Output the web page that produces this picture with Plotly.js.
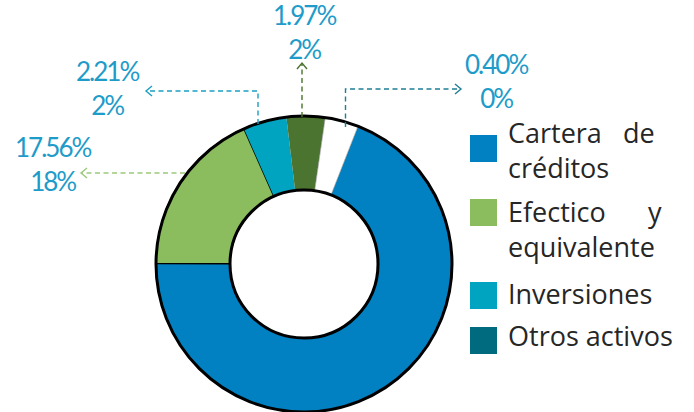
<!DOCTYPE html>
<html>
<head>
<meta charset="utf-8">
<script src="https://cdn.plot.ly/plotly-3.0.1.min.js"></script>
<style>
html,body{margin:0;padding:0;background:#fff;}
#chart{width:694px;height:412px;}
</style>
</head>
<body>
<div id="chart"></div>
<script>
// ---- data ----
const sliceNames  = ['Cartera de créditos', 'Efectico y equivalente', 'Inversiones', 'Otros activos', 'Otros'];
const sliceValues = [69.1, 18.3, 4.75, 4.2, 3.65];
const sliceColors = ['#0181C1', '#8BBD5E', '#00A3C0', '#4A7430', '#FFFFFF'];

const labelPct     = ['17.56%', '2.21%', '1.97%', '0.40%'];
const labelRounded = ['18%', '2%', '2%', '0%'];
const labelColor   = '#1E9BC9';

const legendLabels = ['Cartera de créditos', 'Efectico y equivalente', 'Inversiones', 'Otros activos'];
const legendColors = ['#0181C1', '#8BBD5E', '#00A3C0', '#006A7E'];

// ---- helpers (pixel -> paper) ----
const W = 694, H = 412;
const px = x => x / W;
const py = y => 1 - y / H;
const pathPx = pts => pts.map((p, i) => (i ? 'L' : 'M') + px(p[0]) + ',' + py(p[1])).join(' ');

const LABEL_FONT = 'Lato, "Open Sans", sans-serif';
const LEGEND_FONT = '"Open Sans", Lato, sans-serif';

const traces = [
  {
    type: 'pie',
    labels: sliceNames,
    values: sliceValues,
    sort: false,
    direction: 'clockwise',
    rotation: 21.4,
    hole: 0.5,
    textinfo: 'none',
    hoverinfo: 'label+value',
    marker: { colors: sliceColors, line: { color: ['#000', '#000', '#000', '#000', '#888'], width: [0, 1.5, 0, 0, 0.6] } },
    domain: { x: [px(156), px(452)], y: [0, 296 / H] },
    showlegend: false
  },
  {
    type: 'pie',
    labels: ['ring'],
    values: [1],
    hole: 0.5,
    textinfo: 'none',
    hoverinfo: 'skip',
    marker: { colors: ['rgba(0,0,0,0)'], line: { color: '#000', width: 3 } },
    domain: { x: [px(156), px(452)], y: [0, 296 / H] },
    showlegend: false
  }
];

// leader lines (pixel geometry of the reference)
const leaders = [
  { pts: [[185, 173], [81, 173]], head: [[87, 168], [81, 173], [87, 178]], color: '#9CC97A' },
  { pts: [[258, 124], [258, 91], [146, 91]], head: [[152, 86], [146, 91], [152, 96]], color: '#1AA0C2' },
  { pts: [[302, 117], [302, 63]], head: [[297, 69], [302, 63], [307, 69]], color: '#4A7430' },
  { pts: [[345.5, 127], [345.5, 89], [461, 89]], head: [[455, 84], [461, 89], [455, 94]], color: '#1F7D96' }
];
const labelPos = [[53, 164], [107, 88], [304, 32], [496, 81]];

const shapes = [];
leaders.forEach(l => {
  shapes.push({ type: 'path', xref: 'paper', yref: 'paper', path: pathPx(l.pts),
    line: { color: l.color, width: 1.4, dash: '5px,3.5px' } });
  shapes.push({ type: 'path', xref: 'paper', yref: 'paper', path: pathPx(l.head),
    line: { color: l.color, width: 1.4 } });
});

const annotations = [];
const tight = s => '<span style="letter-spacing:-2px">' + s + '</span>';
labelPct.forEach((t, i) => {
  annotations.push({
    xref: 'paper', yref: 'paper', x: px(labelPos[i][0]), y: py(labelPos[i][1]),
    xanchor: 'center', yanchor: 'middle', showarrow: false,
    text: tight(t) + '<br>' + tight(labelRounded[i]),
    font: { family: LABEL_FONT, size: 26, color: labelColor }
  });
});

// legend (drawn manually: large square keys, justified text)
const legendBoxes = [135, 199, 282, 327];
legendColors.forEach((c, i) => {
  shapes.push({ type: 'rect', xref: 'paper', yref: 'paper',
    x0: px(470), x1: px(497), y0: py(legendBoxes[i]), y1: py(legendBoxes[i] + 27),
    fillcolor: c, line: { width: 0 } });
});
const NB = '\u00A0';
const legendText = [
  'Cartera' + NB.repeat(3) + 'de<br>créditos',
  'Efectico' + NB.repeat(6) + 'y<br>equivalente',
  'Inversiones',
  'Otros activos'
];
const legendY = [150, 229, 293, 335];
legendText.forEach((t, i) => {
  annotations.push({ xref: 'paper', yref: 'paper', x: px(506), y: py(legendY[i]),
    xanchor: 'left', yanchor: 'middle', align: 'left', showarrow: false, text: t,
    font: { family: LEGEND_FONT, size: 27, color: '#262626' } });
});

const layout = {
  width: W, height: H,
  margin: { l: 0, r: 0, t: 0, b: 0 },
  paper_bgcolor: '#fff',
  showlegend: false,
  shapes: shapes,
  annotations: annotations
};

Plotly.newPlot('chart', traces, layout, { displayModeBar: false, staticPlot: true });
</script>
</body>
</html>
